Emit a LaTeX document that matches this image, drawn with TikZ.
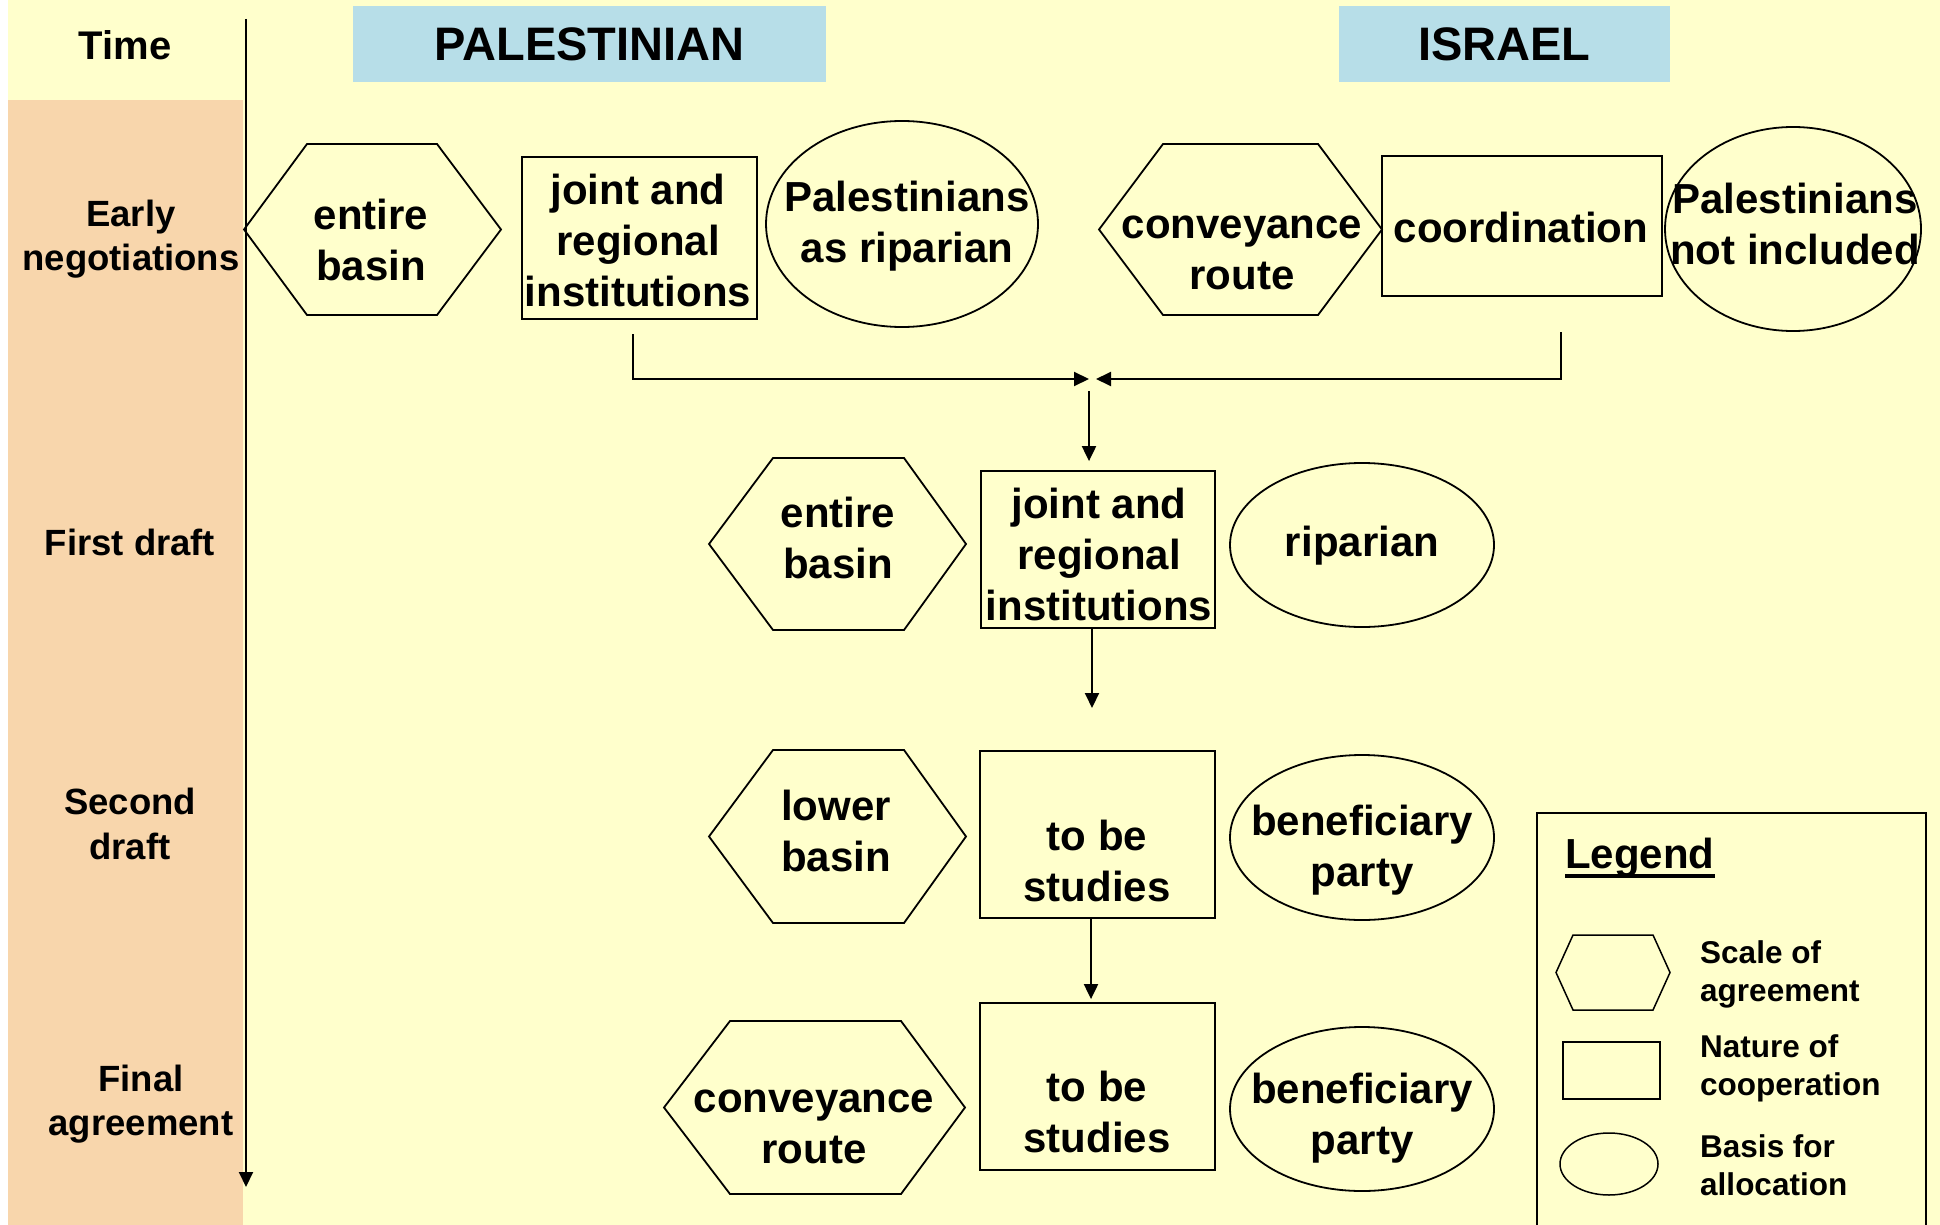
\documentclass[tikz,border=0pt]{standalone}
\usepackage{fontspec}
\setmainfont{Liberation Sans}
\usetikzlibrary{arrows.meta}
\definecolor{bgyel}{RGB}{255,255,204}
\definecolor{salmon}{RGB}{248,214,172}
\definecolor{hdrblue}{RGB}{183,222,232}
\begin{document}
\begin{tikzpicture}[x=1pt,y=-1pt,
  outl/.style={draw=black, line width=1.8pt},
  boxn/.style={draw=black, line width=1.8pt, inner sep=0pt},
  txt/.style={font=\bfseries\fontsize{42}{51}\selectfont, align=center, inner sep=0pt},
  lbl/.style={font=\bfseries\fontsize{36.5}{44.5}\selectfont, align=center, inner sep=0pt},
  legtxt/.style={font=\bfseries\fontsize{31.5}{38}\selectfont, align=left, anchor=west, inner sep=0pt},
  hdr/.style={fill=hdrblue, font=\bfseries\fontsize{47}{56}\selectfont, inner sep=0pt, minimum height=76pt},
  arr/.style={-{Triangle[length=15pt,width=14pt]}, line width=2pt}
]
\useasboundingbox (0,0) rectangle (1940,1225);
% backgrounds
\fill[white] (0,0) rectangle (1940,1225);
\fill[bgyel] (8,0) rectangle (1940,1225);
\fill[salmon] (8,100) rectangle (243,1225);

% headers
\node[hdr, minimum width=473pt] (hpal) at (589.5,44) {PALESTINIAN};
\node[hdr, minimum width=331pt] (hisr) at (1504.5,44) {ISRAEL};

% time axis
\node[font=\bfseries\fontsize{40}{48}\selectfont, inner sep=0pt] (time) at (125,45) {Time};
\coordinate (tl0) at (246,19);
\coordinate (tl1) at (246,1187);
\draw[arr] (tl0) -- (tl1);

\node[lbl] (l1) at (131,239) {Early\\negotiations};
\node[lbl] (l2) at (130,542) {First draft};
\node[lbl] (l3) at (130,824) {Second\\draft};
\node[lbl] (l4) at (141,1104) {Final\\agreement};

% ---------- Row 1 ----------
\draw[outl] (244,229.5) -- (307,144) -- (437,144) -- (501,229.5) -- (437,315) -- (307,315) -- cycle;
\node[txt] (t1a) at (371,239.5) {entire\\basin};
\node[boxn, minimum width=235pt, minimum height=162pt] (r1a) at (639.5,238) {};
\node[txt] (t1b) at (638,240) {joint and\\regional\\institutions};
\draw[outl] (902,224) ellipse [x radius=136, y radius=103];
\node[txt] (t1c) at (907,226.5) {Palestinians\\as riparian};

\draw[outl] (1099,229.5) -- (1163,144) -- (1318,144) -- (1382,229.5) -- (1318,315) -- (1163,315) -- cycle;
\node[txt] (t1d) at (1242,252.5) {conveyance\\route};
\node[boxn, minimum width=280pt, minimum height=140pt] (r1b) at (1522,226) {};
\node[txt] (t1e) at (1521,227.5) {coordination};
\draw[outl] (1793,229) ellipse [x radius=128, y radius=102];
\node[txt] (t1f) at (1795,224) {Palestinians\\not included};

% merge connectors
\coordinate (la) at (633,334);
\coordinate (ltip) at (1089,379);
\coordinate (ra) at (1561,332);
\coordinate (rtip) at (1096,379);
\coordinate (jn) at (1089,391);
\draw[arr] (la) |- (ltip);
\draw[arr] (ra) |- (rtip);

% ---------- Row 2 ----------
\draw[outl] (709,544) -- (773,458) -- (904,458) -- (966,544) -- (904,630) -- (773,630) -- cycle;
\node[txt] (t2a) at (838,538) {entire\\basin};
\node[boxn, minimum width=234pt, minimum height=157pt] (r2) at (1098,549.5) {};
\node[txt] (t2b) at (1099,554) {joint and\\regional\\institutions};
\draw[outl] (1362,545) ellipse [x radius=132, y radius=82];
\node[txt] (t2c) at (1362,546) {riparian};
\draw[arr] (jn) -- (jn |- r2.north) [shorten >=9pt];

\coordinate (a2) at (1092,708);
\draw[arr] (r2.south -| a2) -- (a2);

% ---------- Row 3 ----------
\draw[outl] (709,836.5) -- (773,750) -- (904,750) -- (966,836.5) -- (904,923) -- (773,923) -- cycle;
\node[txt] (t3a) at (836,831) {lower\\basin};
\node[boxn, minimum width=235pt, minimum height=167pt] (r3) at (1097.5,834.5) {};
\node[txt] (t3b) at (1097,860.5) {to be\\studies};
\draw[outl] (1362,837.5) ellipse [x radius=132, y radius=82.5];
\node[txt] (t3c) at (1362,850) {beneficiary\\party};

% ---------- Row 4 ----------
\draw[outl] (664,1107.5) -- (730,1021) -- (901,1021) -- (965,1107.5) -- (901,1194) -- (730,1194) -- cycle;
\node[txt] (t4a) at (814,1127) {conveyance\\route};
\node[boxn, minimum width=235pt, minimum height=167pt] (r4) at (1097.5,1086.5) {};
\node[txt] (t4b) at (1097,1111.5) {to be\\studies};
\draw[outl] (1362,1109) ellipse [x radius=132, y radius=82];
\node[txt] (t4c) at (1362,1118) {beneficiary\\party};

\draw[arr, shorten >=3pt] (r3.south -| 1091,0) -- (r4.north -| 1091,0);

% ---------- Legend ----------
\draw[line width=1.5pt] (1537,1226) -- (1537,813) -- (1926,813) -- (1926,1226);
\node[font=\bfseries\fontsize{42}{50}\selectfont, inner sep=0pt, anchor=base west] (legt) at (1565,868) {Legend};
\draw[line width=3.5pt] ([yshift=-8pt]legt.base west) -- ([yshift=-8pt]legt.base east);

\draw[line width=1.5pt] (1556,972.5) -- (1573,935) -- (1653,935) -- (1670,972.5) -- (1653,1010) -- (1573,1010) -- cycle;
\node[draw=black, line width=1.5pt, inner sep=0pt, minimum width=97pt, minimum height=57pt] (lrect) at (1611.5,1070.5) {};
\draw[line width=1.5pt] (1609,1164) ellipse [x radius=49, y radius=31];

\node[legtxt] (lg1) at (1700,974.5) {Scale of\\agreement};
\node[legtxt] (lg2) at (1700,1068.5) {Nature of\\cooperation};
\node[legtxt] (lg3) at (1700,1165.5) {Basis for\\allocation};
\end{tikzpicture}
\end{document}
